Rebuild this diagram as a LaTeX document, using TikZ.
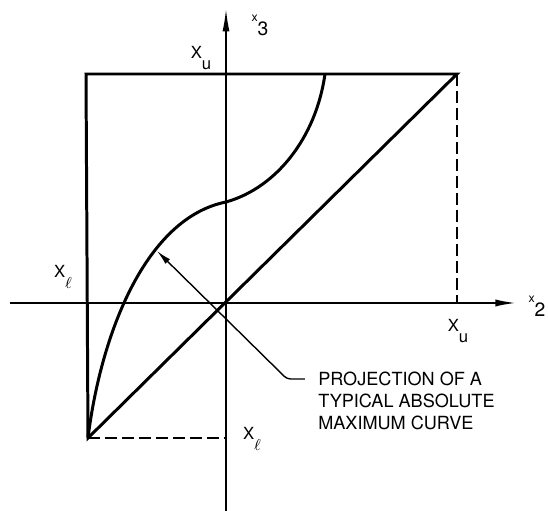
\documentclass[tikz,border=0pt]{standalone}
\usepackage{fontspec}
\setmainfont{TeX Gyre Heros}
\usetikzlibrary{arrows.meta}
\newcommand{\xsub}[1]{X\raisebox{-1.2ex}{#1}}
\newcommand{\xaxis}[1]{\raisebox{8pt}{\fontsize{7}{7}\selectfont x}#1}

\begin{document}
\begin{tikzpicture}[every node/.style={font=\fontsize{9.5}{9.5}\selectfont, inner sep=0pt}, >={Latex[length=4.5mm, width=1.4mm]}]
	\useasboundingbox (-4.52,-4.16) rectangle (6.44,6.06);
	% axes
	\draw[->, line width=1.4pt] (-4.32,0) -- (5.84,0);
	\draw[->, line width=0.8pt] (0,-4.16) -- (0,5.88);
	\node (x3) at (0.68,5.56) {\fontsize{11}{11}\selectfont\xaxis{3}};
	\node (x2) at (6.22,-0.06) {\fontsize{11}{11}\selectfont\xaxis{2}};
	% limits
	\coordinate (tl) at (-2.80,4.58);
	\coordinate (tr) at (4.62,4.58);
	\coordinate (bl) at (-2.76,-2.70);
	\coordinate (br) at (4.62,0);
	\coordinate (bb) at (0,-2.70);
	\draw[line width=1.7pt, line join=miter] (bl) -- (tl) -- (tr) -- cycle;
	\draw[line width=1pt, dash pattern=on 0.24cm off 0.1cm] (tr) -- (br);
	\draw[line width=1pt, dash pattern=on 0.24cm off 0.1cm] (bl) -- (bb);
	\node (xut) at (-0.50,4.90) {\xsub{u}};
	\node (xll) at (-3.26,0.52) {\xsub{$\ell$}};
	\node (xur) at (4.64,-0.56) {\xsub{u}};
	\node (xlb) at (0.52,-2.72) {\xsub{$\ell$}};
	% typical curve
	\coordinate (mid) at (0,2.02);
	\coordinate (top) at (1.98,4.58);
	\draw[line width=1.7pt] (bl) .. controls (-2.5,-0.6) and (-1.6,1.7) .. (mid)
		.. controls (1.0,2.3) and (1.8,3.3) .. (top);
	% note
	\node[anchor=north west, align=left, font=\fontsize{10.3}{12.5}\selectfont] (note) at (1.84,-1.38) {PROJECTION OF A\\TYPICAL ABSOLUTE\\MAXIMUM CURVE};
	\coordinate (lead) at (1.58,-1.52);
	\coordinate (tip) at (-1.38,1.04);
	\draw[->, >={Latex[length=3mm, width=1.3mm]}, line width=0.8pt, rounded corners=2pt] (lead) -- ++(-0.36,0) -- (tip);
\end{tikzpicture}
\end{document}
